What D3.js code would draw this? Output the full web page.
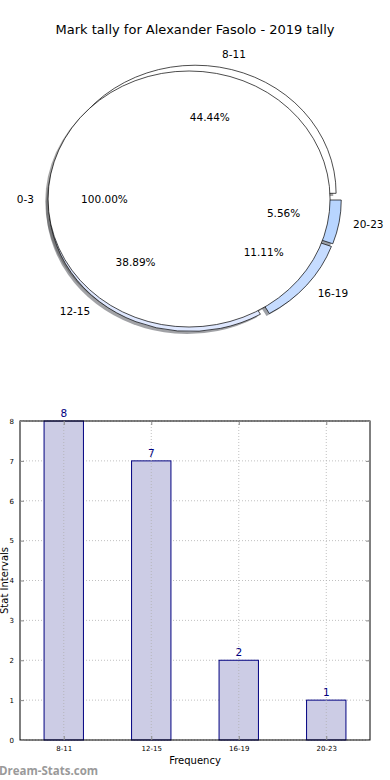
<!DOCTYPE html>
<html>
<head>
<meta charset="utf-8">
<script src="https://cdn.jsdelivr.net/npm/d3@7"></script>
<style>
  body { margin: 0; background: #fff; }
  svg { display: block; font-family: "DejaVu Sans", sans-serif; }
</style>
</head>
<body>
<div class="chart"></div>
<script>
// pie data (slices are exploded, 0-3 drawn as a separate full wedge on top)
const pieLabels = ["8-11", "12-15", "16-19", "20-23"]
const pieValues = [8, 7, 2, 1]
const pieColors = ["#ffffff", "#dfe8ff", "#c6dcff", "#b8d5ff"]
const fullLabel = "0-3"
const fullValue = [1]

// bar data
const barLabels = ["8-11", "12-15", "16-19", "20-23"]
const barValues = [8, 7, 2, 1]
const yTicks = [0, 1, 2, 3, 4, 5, 6, 7, 8]

const width = 390, height = 780

const svg = d3.select(".chart").append("svg")
	.attr("width", width)
	.attr("height", height)

svg.append("text")
	.attr("x", 195).attr("y", 34)
	.attr("text-anchor", "middle")
	.style("font-size", "13px")
	.text("Mark tally for Alexander Fasolo - 2019 tally")

// ---------- pie ----------
const cx = 194, cy = 199, rx = 141, ry = 128
const sx = d3.scaleLinear().domain([-1, 1]).range([cx - rx, cx + rx])
const sy = d3.scaleLinear().domain([-1, 1]).range([cy + ry, cy - ry])

// matplotlib style: start at 3 o'clock, counter clockwise
function wedges(values, labels, colors, explode) {
	const total = d3.sum(values)
	let t = 0
	return values.map((v, i) => {
		const t1 = t, t2 = t + v / total * 2 * Math.PI
		t = t2
		const mid = (t1 + t2) / 2
		return {
			label: labels[i], color: colors[i], pct: v / total * 100,
			t1: t1, t2: t2, mid: mid,
			ox: explode * Math.cos(mid), oy: explode * Math.sin(mid)
		}
	})
}

const slices = wedges(pieValues, pieLabels, pieColors, 0.045)
const full = wedges(fullValue, [fullLabel], ["#ffffff"], 0.035)
const all = slices.concat(full)

const arc = d3.arc().innerRadius(0).outerRadius(1)
function arcPath(d) {
	return arc({ startAngle: Math.PI / 2 - d.t2, endAngle: Math.PI / 2 - d.t1 })
}
function wedgeTransform(d, dx, dy) {
	return `translate(${sx(d.ox + dx)},${sy(d.oy + dy)}) scale(${rx},${ry})`
}
function shade(c) {
	const k = d3.rgb(c)
	return d3.rgb(k.r * 0.3, k.g * 0.3, k.b * 0.3)
}

const pie = svg.append("g")
// shadows below every wedge
pie.selectAll("path.shadow")
	.data(all)
	.join("path")
	.attr("class", "shadow")
	.attr("d", arcPath)
	.attr("transform", d => wedgeTransform(d, -0.02, -0.02))
	.attr("fill", d => shade(d.color))
	.attr("fill-opacity", 0.5)
	.attr("stroke", "none")

pie.selectAll("path.wedge")
	.data(all)
	.join("path")
	.attr("class", "wedge")
	.attr("d", arcPath)
	.attr("transform", d => wedgeTransform(d, 0, 0))
	.attr("fill", d => d.color)
	.attr("stroke", "#000")
	.attr("stroke-width", 0.7)
	.attr("vector-effect", "non-scaling-stroke")

pie.selectAll("text.lab")
	.data(all)
	.join("text")
	.attr("class", "lab")
	.attr("x", d => sx(d.ox + 1.1 * Math.cos(d.mid)))
	.attr("y", d => sy(d.oy + 1.1 * Math.sin(d.mid)))
	.attr("dy", "0.35em")
	.attr("text-anchor", d => Math.cos(d.mid) < 0 ? "end" : "start")
	.style("font-size", "10.5px")
	.text(d => d.label)

pie.selectAll("text.pct")
	.data(all)
	.join("text")
	.attr("class", "pct")
	.attr("x", d => sx(d.ox + 0.6 * Math.cos(d.mid)))
	.attr("y", d => sy(d.oy + 0.6 * Math.sin(d.mid)))
	.attr("dy", "0.35em")
	.attr("text-anchor", "middle")
	.style("font-size", "10.5px")
	.text(d => d.pct.toFixed(2) + "%")

// ---------- bars ----------
const pLeft = 20, pRight = 370, pTop = 421, pBottom = 740
const x = d3.scaleLinear().domain([-0.5, barLabels.length - 0.5]).range([pLeft, pRight])
const y = d3.scaleLinear().domain([0, 8]).range([pBottom, pTop])
const bw = 0.45

const bars = svg.append("g")

// grid
bars.selectAll("line.hgrid")
	.data(yTicks)
	.join("line")
	.attr("class", "hgrid")
	.attr("x1", pLeft).attr("x2", pRight)
	.attr("y1", d => y(d)).attr("y2", d => y(d))
	.attr("stroke", "#b0b0b0")
	.attr("stroke-width", 0.8)
	.attr("stroke-dasharray", "1,2")

bars.selectAll("rect.bar")
	.data(barValues)
	.join("rect")
	.attr("class", "bar")
	.attr("x", (d, i) => x(i - bw / 2))
	.attr("width", x(bw) - x(0))
	.attr("y", d => y(d))
	.attr("height", d => y(0) - y(d))
	.attr("fill", "#ccccE5")
	.attr("stroke", "#000080")
	.attr("stroke-width", 1)

bars.selectAll("line.vgrid")
	.data(barLabels)
	.join("line")
	.attr("class", "vgrid")
	.attr("x1", (d, i) => x(i)).attr("x2", (d, i) => x(i))
	.attr("y1", pTop).attr("y2", pBottom)
	.attr("stroke", "#b0b0b0")
	.attr("stroke-width", 0.8)
	.attr("stroke-dasharray", "1,2")

bars.selectAll("text.val")
	.data(barValues)
	.join("text")
	.attr("class", "val")
	.attr("x", (d, i) => x(i))
	.attr("y", d => y(d) - 4)
	.attr("text-anchor", "middle")
	.attr("fill", "#000080")
	.style("font-size", "10.5px")
	.text(d => d)

// frame
bars.append("rect")
	.attr("x", pLeft).attr("y", pTop)
	.attr("width", pRight - pLeft).attr("height", pBottom - pTop)
	.attr("fill", "none")
	.attr("stroke", "#000")
	.attr("stroke-width", 1)

// y ticks inside on both sides
const yAxisL = d3.axisLeft(y).tickValues(yTicks).tickSize(-4).tickPadding(6)
bars.append("g")
	.attr("transform", `translate(${pLeft},0)`)
	.call(yAxisL)
	.call(g => g.select(".domain").remove())
	.call(g => g.selectAll("text").style("font-size", "7px").style("font-family", "DejaVu Sans"))
	.call(g => g.selectAll("line").attr("stroke", "#888"))
const yAxisR = d3.axisRight(y).tickValues(yTicks).tickSize(-4).tickFormat("")
bars.append("g")
	.attr("transform", `translate(${pRight},0)`)
	.call(yAxisR)
	.call(g => g.select(".domain").remove())
	.call(g => g.selectAll("line").attr("stroke", "#888"))

const xAxis = d3.axisBottom(x).tickValues(d3.range(barLabels.length))
	.tickFormat(i => barLabels[i]).tickSize(-4).tickPadding(6)
bars.append("g")
	.attr("transform", `translate(0,${pBottom})`)
	.call(xAxis)
	.call(g => g.select(".domain").remove())
	.call(g => g.selectAll("text").style("font-size", "7px").style("font-family", "DejaVu Sans"))
	.call(g => g.selectAll("line").attr("stroke", "#888"))
const xAxisT = d3.axisTop(x).tickValues(d3.range(barLabels.length)).tickSize(-4).tickFormat("")
bars.append("g")
	.attr("transform", `translate(0,${pTop})`)
	.call(xAxisT)
	.call(g => g.select(".domain").remove())
	.call(g => g.selectAll("line").attr("stroke", "#888"))

svg.append("text")
	.attr("x", 195).attr("y", 764)
	.attr("text-anchor", "middle")
	.style("font-size", "10px")
	.text("Frequency")

svg.append("text")
	.attr("transform", `translate(4,${(pTop + pBottom) / 2}) rotate(-90)`)
	.attr("text-anchor", "middle")
	.attr("dy", "0.35em")
	.style("font-size", "10px")
	.text("Stat Intervals")

svg.append("text")
	.attr("x", -1).attr("y", 775)
	.attr("fill", "#9a9a9a")
	.style("font-family", "Open Sans")
	.style("font-weight", "bold")
	.style("font-size", "11.5px")
	.text("Dream-Stats.com")
</script>
</body>
</html>
